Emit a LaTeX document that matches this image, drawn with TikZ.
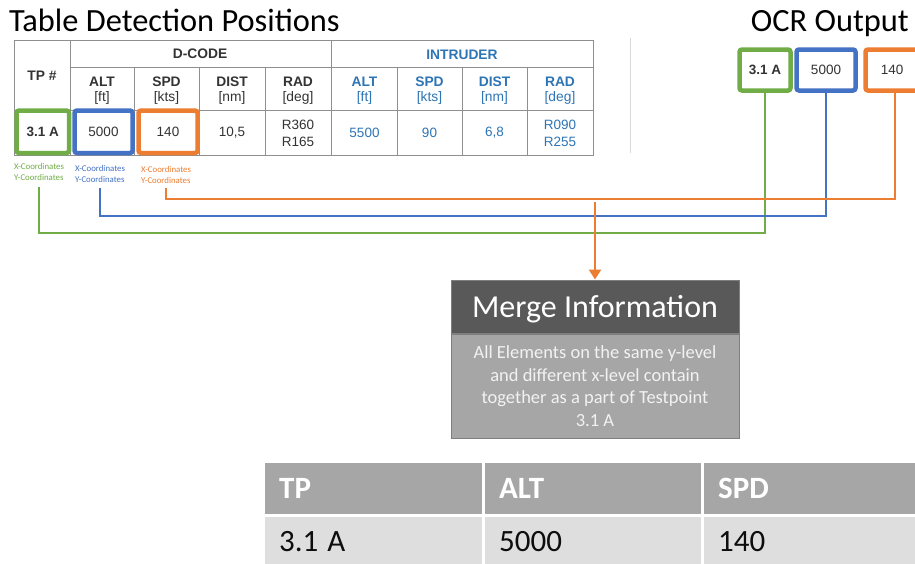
\documentclass[tikz,border=0pt]{standalone}
\usepackage{fontspec}
\setmainfont{Carlito}
\newfontfamily\arialf{Liberation Sans}
\usetikzlibrary{arrows.meta}

\definecolor{cgreen}{HTML}{70AD47}
\definecolor{cblue}{HTML}{4472C4}
\definecolor{corange}{HTML}{ED7D31}
\definecolor{intblue}{HTML}{2E75B6}
\definecolor{gridgray}{HTML}{8F8F8F}
\definecolor{tabtext}{HTML}{333333}
\definecolor{mergedark}{HTML}{595959}
\definecolor{mergelight}{HTML}{A6A6A6}
\definecolor{mergeedge}{HTML}{7F7F7F}
\definecolor{rowlight}{HTML}{DEDEDE}
\definecolor{sepgray}{HTML}{D9D9D9}

\tikzset{
  titletext/.style={font=\fontsize{32.4}{38}\selectfont, text=black, inner sep=0pt},
  tabhead/.style={font=\arialf\bfseries\fontsize{13.8}{16.5}\selectfont, text=tabtext, align=center, inner sep=0pt},
  tabcell/.style={font=\arialf\fontsize{13.5}{17}\selectfont, text=tabtext, align=center, inner sep=0pt},
  gridline/.style={draw=gridgray, line width=0.8pt},
  hbox/.style={draw=#1, line width=4.5pt, rounded corners=2.5pt, fill=white,
    font=\arialf\fontsize{13.5}{16}\selectfont, text=tabtext, inner sep=0pt},
  coordlab/.style={font=\fontsize{8.8}{11}\selectfont, text=#1, align=left, inner sep=0pt},
  link/.style={draw=#1, line width=2pt},
  mhead/.style={draw=mergeedge, line width=1pt, fill=mergedark, text=white, text depth=0pt,
    font=\fontsize{32}{38}\selectfont, minimum width=288pt, minimum height=53pt, inner sep=0pt},
  mbody/.style={draw=mergeedge, line width=1pt, fill=mergelight, text=white!95!black,
    font=\fontsize{18.5}{22.7}\selectfont, align=center, minimum width=288pt, minimum height=104pt, inner sep=0pt},
  hcell/.style={fill=mergelight, text=white, font=\bfseries\fontsize{31}{36}\selectfont,
    text width=#1, inner xsep=14pt, inner ysep=0pt, minimum height=51pt, align=left, anchor=north west},
  dcell/.style={fill=rowlight, text=black!95, font=\fontsize{31}{36}\selectfont,
    text width=#1, inner xsep=14pt, inner ysep=0pt, minimum height=48pt, align=left, anchor=north west},
}

\begin{document}
\begin{tikzpicture}[x=1pt,y=-1pt]
\useasboundingbox (0,0) rectangle (915,563);
\fill[white] (0,0) rectangle (915,563);

% ---------- titles ----------
\node[titletext, anchor=base west] (ttable) at (9,31) {Table Detection Positions};
\node[titletext, anchor=base east] (tocr) at (909,31) {OCR Output};

% ---------- detection table grid ----------
\draw[gridline] (14,40) rectangle (593,155);
\draw[gridline] (70,40) -- (70,155);
\draw[gridline] (331,40) -- (331,155);
\draw[gridline] (70,67) -- (593,67);
\draw[gridline] (14,110) -- (593,110);
\foreach \xx in {134,199,265,397,462,527}
  \draw[gridline] (\xx,67) -- (\xx,155);
\draw[sepgray, line width=1pt] (630,38) -- (630,153);

% header texts
\node[tabhead] (hTP) at (42,76) {TP \#};
\node[tabhead] (hDC) at (200,54) {D-CODE};
\node[tabhead, text=intblue] (hIN) at (462,55) {INTRUDER};
\node[tabhead] (hALT) at (102,90.5) {ALT\\[-1pt]{\mdseries [ft]}};
\node[tabhead] (hSPD) at (166.5,90.5) {SPD\\[-1pt]{\mdseries [kts]}};
\node[tabhead] (hDIST) at (232,90.5) {DIST\\[-1pt]{\mdseries [nm]}};
\node[tabhead] (hRAD) at (298,90.5) {RAD\\[-1pt]{\mdseries [deg]}};
\node[tabhead, text=intblue] (iALT) at (364.5,90.5) {ALT\\[-1pt]{\mdseries [ft]}};
\node[tabhead, text=intblue] (iSPD) at (429.5,90.5) {SPD\\[-1pt]{\mdseries [kts]}};
\node[tabhead, text=intblue] (iDIST) at (494.5,90.5) {DIST\\[-1pt]{\mdseries [nm]}};
\node[tabhead, text=intblue] (iRAD) at (560,90.5) {RAD\\[-1pt]{\mdseries [deg]}};

% data row
\node[tabcell] (dDIST) at (232,133) {10,5};
\node[tabcell] (dRAD) at (298,133) {R360\\R165};
\node[tabcell, text=intblue] (dIALT) at (364.5,133) {5500};
\node[tabcell, text=intblue] (dISPD) at (429.5,133) {90};
\node[tabcell, text=intblue] (dIDIST) at (494.5,133) {6,8};
\node[tabcell, text=intblue] (dIRAD) at (560,133) {R090\\R255};

% highlighted detections
\node[hbox=cgreen, minimum width=52.5pt, minimum height=42.5pt, font=\arialf\bfseries\fontsize{13.5}{16}\selectfont]
  (tA) at (42.75,131.75) {3.1 A};
\node[hbox=cblue, minimum width=58pt, minimum height=42.5pt] (tB) at (103.5,131.75) {5000};
\node[hbox=corange, minimum width=59pt, minimum height=42.5pt] (tC) at (168,131.75) {140};

% coordinate labels
\node[coordlab=cgreen] (lA) at (39,171.5) {X-Coordinates\\Y-Coordinates};
\node[coordlab=cblue] (lB) at (100,173.5) {X-Coordinates\\Y-Coordinates};
\node[coordlab=corange] (lC) at (166,174.5) {X-Coordinates\\Y-Coordinates};

% ---------- OCR output boxes ----------
\node[hbox=cgreen, minimum width=51pt, minimum height=41pt, font=\arialf\bfseries\fontsize{13.5}{16}\selectfont]
  (oA) at (765,70) {3.1 A};
\node[hbox=cblue, minimum width=59pt, minimum height=41pt] (oB) at (826,70) {5000};
\node[hbox=corange, minimum width=59pt, minimum height=41pt, text width=59pt, align=center] (oC) at (895,70) {\hspace*{-3pt}140\hspace*{3pt}};

% ---------- connectors ----------
\draw[link=cgreen]  ([yshift=-7pt]lA.south) -- ++(0,46) -| (oA.south);
\draw[link=cblue]   ([yshift=-6pt]lB.south) -- ++(0,28) -| (oB.south);
\draw[link=corange] ([yshift=-5pt]lC.south) -- ++(0,11) -| (oC.south);

% ---------- merge step ----------
\node[mhead] (merge) at (595,306.5) {Merge Information};
\node[mbody, anchor=north] (mtext) at (merge.south)
  {All Elements on the same y-level\\and different x-level contain\\together as a part of Testpoint\\3.1 A};

\coordinate (tap) at (merge.north |- 0,202);
\draw[corange, line width=2.5pt, -{Triangle[length=10pt,width=12pt]}] (tap) -- (merge.north);

% ---------- merged result table ----------
\node[hcell=189pt] (rTP)  at (265,463) {TP};
\node[hcell=188pt] (rALT) at (485,463) {ALT};
\node[hcell=200pt] (rSPD) at (704,463) {SPD};
\node[dcell=189pt] (vTP)  at (265,517) {3.1\hspace{-1.5pt} A};
\node[dcell=188pt] (vALT) at (485,517) {5000};
\node[dcell=200pt] (vSPD) at (704,517) {140};
\end{tikzpicture}
\end{document}
